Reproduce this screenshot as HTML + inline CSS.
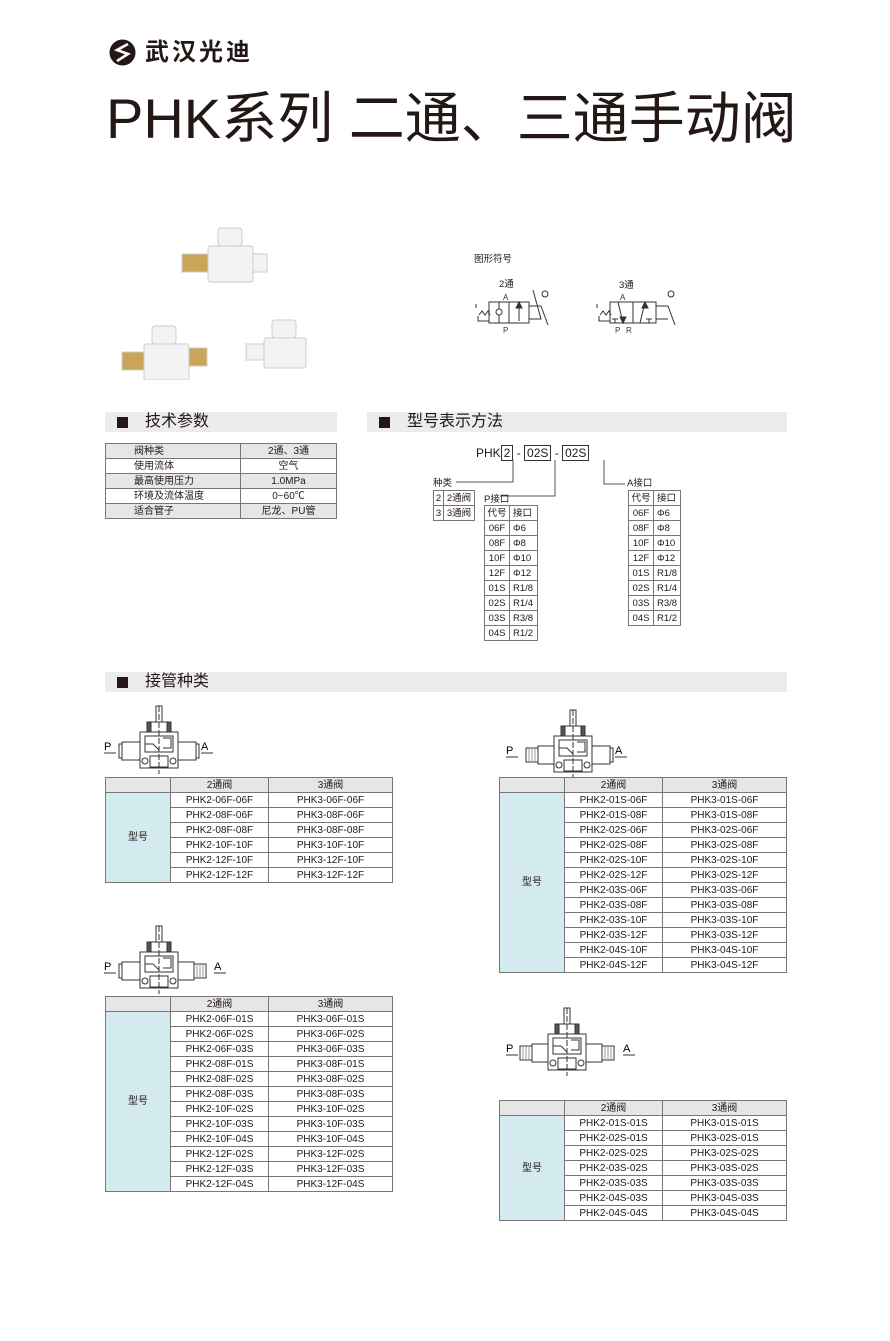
<!DOCTYPE html>
<html><head><meta charset="utf-8">
<style>
*{margin:0;padding:0;box-sizing:border-box}
body{width:890px;height:1341px;background:#fff;position:relative;font-family:"Liberation Sans","Noto Sans CJK SC",sans-serif;color:#231815;overflow:hidden}
.a{position:absolute}
.bar{position:absolute;height:20px;background:#ececec;font-size:16px;line-height:20px}
.bar i{position:absolute;left:12px;top:5px;width:11px;height:11px;background:#231815}
.bar span{position:absolute;left:40px;top:0}
table{position:absolute;border-collapse:collapse;font-size:10px;font-family:"Liberation Sans","Noto Sans CJK SC",sans-serif}
td{border:1px solid #777;text-align:center;padding:0;line-height:13px;height:15px;white-space:nowrap}
.hd td{background:#e6e6e6}
td.bl{background:#d3eaee}
.p td{height:15px;line-height:13px}
.s td{font-size:9.5px;height:15px;line-height:13px}
</style></head><body>

<svg class="a" style="left:109px;top:39px" width="27" height="27" viewBox="0 0 27 27"><circle cx="13.5" cy="13.5" r="13" fill="#231815"/><path d="M19 5 L8 11 L19 15 L8 22" stroke="#fff" stroke-width="2.6" fill="none"/></svg>
<div class="a" style="left:145px;top:38px;font-size:24px;font-weight:bold;letter-spacing:3px;line-height:30px">武汉光迪</div>
<div class="a" style="left:106px;top:87px;font-size:56px;line-height:64px;white-space:nowrap">PHK系列 二通、三通手动阀</div>

<!-- product photos -->
<svg class="a" style="left:110px;top:220px" width="200" height="160">
<g fill="#f3f3f3" stroke="#ccc">
<rect x="108" y="8" width="24" height="18" rx="3"/>
<rect x="98" y="26" width="45" height="36" rx="2"/>
<rect x="143" y="34" width="14" height="18"/>
<rect x="72" y="34" width="26" height="18" fill="#c9a55a"/>
<rect x="42" y="106" width="24" height="18" rx="3"/>
<rect x="34" y="124" width="45" height="36" rx="2"/>
<rect x="79" y="128" width="18" height="18" fill="#c9a55a"/>
<rect x="12" y="132" width="22" height="18" fill="#c9a55a"/>
<rect x="162" y="100" width="24" height="18" rx="3"/>
<rect x="154" y="118" width="42" height="30" rx="2"/>
<rect x="136" y="124" width="18" height="16"/>
</g></svg>

<!-- symbols -->
<div class="a" style="left:474px;top:251px;font-size:9.5px">图形符号</div>
<div class="a" style="left:499px;top:276px;font-size:9.5px">2通</div>
<div class="a" style="left:619px;top:277px;font-size:9.5px">3通</div>
<svg class="a" style="left:470px;top:290px" width="230" height="50" font-size="8" font-family="Liberation Sans">
<g stroke="#333" fill="none" stroke-width="1">
<path d="M8 26 v5 h11 M6 14 v4"/><path d="M9 25 l3 -4 l3 4 l3 -4 l2 4"/>
<rect x="19" y="12" width="40" height="21"/><line x1="39" y1="12" x2="39" y2="33"/>
<line x1="29" y1="12" x2="29" y2="33"/><circle cx="29" cy="22" r="3" fill="#fff"/>
<line x1="49" y1="31" x2="49" y2="14"/><path d="M46 18 L49 12 L52 18Z" fill="#333"/>
<path d="M59 16 h12 M59 29 h12 L63 -0 M71 16 L78 35"/><circle cx="75" cy="4" r="3"/>
<path d="M129 26 v5 h11 M127 14 v4"/><path d="M130 25 l3 -4 l3 4 l3 -4 l2 4"/>
<rect x="140" y="12" width="46" height="21"/><line x1="163" y1="12" x2="163" y2="33"/>
<path d="M148 12 L153 33"/><path d="M150 27 L153 33 L156 27Z" fill="#333"/>
<path d="M145 33 v-4 M142 29 h6"/>
<path d="M170 33 L175 12"/><path d="M172 18 L175 12 L178 18Z" fill="#333"/>
<path d="M179 33 v-4 M176 29 h6"/>
<path d="M186 16 h12 M186 29 h12 M198 16 L205 35"/><circle cx="201" cy="4" r="3"/>
</g>
<g fill="#333"><text x="33" y="10">A</text><text x="33" y="43">P</text><text x="150" y="10">A</text><text x="145" y="43">P</text><text x="156" y="43">R</text></g>
</svg>

<!-- section bars -->
<div class="bar" style="left:105px;top:412px;width:232px"><i></i><span>技术参数</span></div>
<div class="bar" style="left:367px;top:412px;width:420px"><i></i><span>型号表示方法</span></div>
<div class="bar" style="left:105px;top:672px;width:682px"><i></i><span>接管种类</span></div>

<table class="p" style="left:105px;top:443px;width:232px">
<tr style="background:#e6e6e6"><td style="width:135px;text-align:left;padding-left:28px">阀种类</td><td>2通、3通</td></tr>
<tr><td style="text-align:left;padding-left:28px">使用流体</td><td>空气</td></tr>
<tr style="background:#e6e6e6"><td style="text-align:left;padding-left:28px">最高使用压力</td><td>1.0MPa</td></tr>
<tr><td style="text-align:left;padding-left:28px">环境及流体温度</td><td>0~60℃</td></tr>
<tr style="background:#e6e6e6"><td style="text-align:left;padding-left:28px">适合管子</td><td>尼龙、PU管</td></tr>
</table>

<!-- model code -->
<div class="a" style="left:476px;top:446px;font-size:12px;line-height:14px;white-space:nowrap">PHK<span style="border:1px solid #333;padding:0 2px">2</span>&nbsp;-&nbsp;<span style="border:1px solid #333;padding:0 2px">02S</span>&nbsp;-&nbsp;<span style="border:1px solid #333;padding:0 2px">02S</span></div>
<svg class="a" style="left:420px;top:440px" width="280" height="80"><g stroke="#555" fill="none">
<path d="M93 20 V42 H36"/><path d="M135 20 V56 H80"/><path d="M184 20 V44 H205"/></g></svg>
<div class="a" style="left:433px;top:475px;font-size:9.5px">种类</div>
<div class="a" style="left:484px;top:491px;font-size:9.5px">P接口</div>
<div class="a" style="left:627px;top:475px;font-size:9.5px">A接口</div>
<table class="s" style="left:433px;top:490px"><tr><td style="width:10px">2</td><td style="width:31px">2通阀</td></tr><tr><td>3</td><td>3通阀</td></tr></table>
<table class="s" style="left:484px;top:505px"><tr><td style="width:25px">代号</td><td style="width:28px;text-align:left;padding-left:3px">接口</td></tr>
<tr><td>06F</td><td style="text-align:left;padding-left:3px">Φ6</td></tr><tr><td>08F</td><td style="text-align:left;padding-left:3px">Φ8</td></tr><tr><td>10F</td><td style="text-align:left;padding-left:3px">Φ10</td></tr><tr><td>12F</td><td style="text-align:left;padding-left:3px">Φ12</td></tr><tr><td>01S</td><td style="text-align:left;padding-left:3px">R1/8</td></tr><tr><td>02S</td><td style="text-align:left;padding-left:3px">R1/4</td></tr><tr><td>03S</td><td style="text-align:left;padding-left:3px">R3/8</td></tr><tr><td>04S</td><td style="text-align:left;padding-left:3px">R1/2</td></tr></table>
<table class="s" style="left:628px;top:490px"><tr><td style="width:25px">代号</td><td style="width:27px;text-align:left;padding-left:3px">接口</td></tr>
<tr><td>06F</td><td style="text-align:left;padding-left:3px">Φ6</td></tr><tr><td>08F</td><td style="text-align:left;padding-left:3px">Φ8</td></tr><tr><td>10F</td><td style="text-align:left;padding-left:3px">Φ10</td></tr><tr><td>12F</td><td style="text-align:left;padding-left:3px">Φ12</td></tr><tr><td>01S</td><td style="text-align:left;padding-left:3px">R1/8</td></tr><tr><td>02S</td><td style="text-align:left;padding-left:3px">R1/4</td></tr><tr><td>03S</td><td style="text-align:left;padding-left:3px">R3/8</td></tr><tr><td>04S</td><td style="text-align:left;padding-left:3px">R1/2</td></tr></table>

<!-- fitting drawings -->
<svg class="a" style="left:0;top:0" width="890" height="1341" font-family="Liberation Sans" font-size="11">
<defs><g id="v" stroke="#333" fill="#fff" stroke-width="1">
<rect x="-3" y="0" width="6" height="16"/>
<rect x="-12" y="16" width="24" height="10" fill="#555"/><rect x="-8" y="16" width="16" height="10"/>
<rect x="-19" y="26" width="38" height="36"/>
<rect x="-14" y="30" width="28" height="16"/><path d="M-14 38 h8 l6 6 M4 32 h8 v10 h-8"/>
<rect x="-9" y="50" width="18" height="11"/><circle cx="-14" cy="55" r="3"/><circle cx="14" cy="55" r="3"/>
<line x1="0" y1="0" x2="0" y2="68" stroke-dasharray="6 2"/>
</g>
<g id="fp" stroke="#333" fill="#fff"><rect x="-37" y="36" width="18" height="18"/><rect x="-40" y="38" width="3" height="14"/></g>
<g id="ft" stroke="#333" fill="#fff"><rect x="-35" y="36" width="16" height="18"/><rect x="-47" y="38" width="12" height="14"/><path d="M-44 38v14M-41 38v14M-38 38v14" stroke="#999"/></g>
</defs>
<g transform="translate(159,706)"><use href="#fp"/><use href="#fp" transform="scale(-1,1)"/><use href="#v"/><text x="-55" y="44">P</text><text x="42" y="44">A</text><path d="M-55 47h12M42 47h12" stroke="#333"/></g>
<g transform="translate(159,926)"><use href="#fp"/><use href="#ft" transform="scale(-1,1)"/><use href="#v"/><text x="-55" y="44">P</text><text x="55" y="44">A</text><path d="M-55 47h12M55 47h12" stroke="#333"/></g>
<g transform="translate(573,710)"><use href="#ft"/><use href="#fp" transform="scale(-1,1)"/><use href="#v"/><text x="-67" y="44">P</text><text x="42" y="44">A</text><path d="M-67 47h12M42 47h12" stroke="#333"/></g>
<g transform="translate(567,1008)"><use href="#ft"/><use href="#ft" transform="scale(-1,1)"/><use href="#v"/><text x="-61" y="44">P</text><text x="56" y="44">A</text><path d="M-61 47h12M56 47h12" stroke="#333"/></g>
</svg>

<table style="left:105px;top:777px;width:288px">
<tr class="hd"><td style="width:65px"></td><td style="width:98px">2通阀</td><td>3通阀</td></tr>
<tr><td class="bl" rowspan="6">型号</td><td>PHK2-06F-06F</td><td>PHK3-06F-06F</td></tr>
<tr><td>PHK2-08F-06F</td><td>PHK3-08F-06F</td></tr><tr><td>PHK2-08F-08F</td><td>PHK3-08F-08F</td></tr><tr><td>PHK2-10F-10F</td><td>PHK3-10F-10F</td></tr><tr><td>PHK2-12F-10F</td><td>PHK3-12F-10F</td></tr><tr><td>PHK2-12F-12F</td><td>PHK3-12F-12F</td></tr>
</table>

<table style="left:105px;top:996px;width:288px">
<tr class="hd"><td style="width:65px"></td><td style="width:98px">2通阀</td><td>3通阀</td></tr>
<tr><td class="bl" rowspan="12">型号</td><td>PHK2-06F-01S</td><td>PHK3-06F-01S</td></tr>
<tr><td>PHK2-06F-02S</td><td>PHK3-06F-02S</td></tr><tr><td>PHK2-06F-03S</td><td>PHK3-06F-03S</td></tr><tr><td>PHK2-08F-01S</td><td>PHK3-08F-01S</td></tr><tr><td>PHK2-08F-02S</td><td>PHK3-08F-02S</td></tr><tr><td>PHK2-08F-03S</td><td>PHK3-08F-03S</td></tr><tr><td>PHK2-10F-02S</td><td>PHK3-10F-02S</td></tr><tr><td>PHK2-10F-03S</td><td>PHK3-10F-03S</td></tr><tr><td>PHK2-10F-04S</td><td>PHK3-10F-04S</td></tr><tr><td>PHK2-12F-02S</td><td>PHK3-12F-02S</td></tr><tr><td>PHK2-12F-03S</td><td>PHK3-12F-03S</td></tr><tr><td>PHK2-12F-04S</td><td>PHK3-12F-04S</td></tr>
</table>

<table style="left:499px;top:777px;width:288px">
<tr class="hd"><td style="width:65px"></td><td style="width:98px">2通阀</td><td>3通阀</td></tr>
<tr><td class="bl" rowspan="12">型号</td><td>PHK2-01S-06F</td><td>PHK3-01S-06F</td></tr>
<tr><td>PHK2-01S-08F</td><td>PHK3-01S-08F</td></tr><tr><td>PHK2-02S-06F</td><td>PHK3-02S-06F</td></tr><tr><td>PHK2-02S-08F</td><td>PHK3-02S-08F</td></tr><tr><td>PHK2-02S-10F</td><td>PHK3-02S-10F</td></tr><tr><td>PHK2-02S-12F</td><td>PHK3-02S-12F</td></tr><tr><td>PHK2-03S-06F</td><td>PHK3-03S-06F</td></tr><tr><td>PHK2-03S-08F</td><td>PHK3-03S-08F</td></tr><tr><td>PHK2-03S-10F</td><td>PHK3-03S-10F</td></tr><tr><td>PHK2-03S-12F</td><td>PHK3-03S-12F</td></tr><tr><td>PHK2-04S-10F</td><td>PHK3-04S-10F</td></tr><tr><td>PHK2-04S-12F</td><td>PHK3-04S-12F</td></tr>
</table>

<table style="left:499px;top:1100px;width:288px">
<tr class="hd"><td style="width:65px"></td><td style="width:98px">2通阀</td><td>3通阀</td></tr>
<tr><td class="bl" rowspan="7">型号</td><td>PHK2-01S-01S</td><td>PHK3-01S-01S</td></tr>
<tr><td>PHK2-02S-01S</td><td>PHK3-02S-01S</td></tr><tr><td>PHK2-02S-02S</td><td>PHK3-02S-02S</td></tr><tr><td>PHK2-03S-02S</td><td>PHK3-03S-02S</td></tr><tr><td>PHK2-03S-03S</td><td>PHK3-03S-03S</td></tr><tr><td>PHK2-04S-03S</td><td>PHK3-04S-03S</td></tr><tr><td>PHK2-04S-04S</td><td>PHK3-04S-04S</td></tr>
</table>

</body></html>
